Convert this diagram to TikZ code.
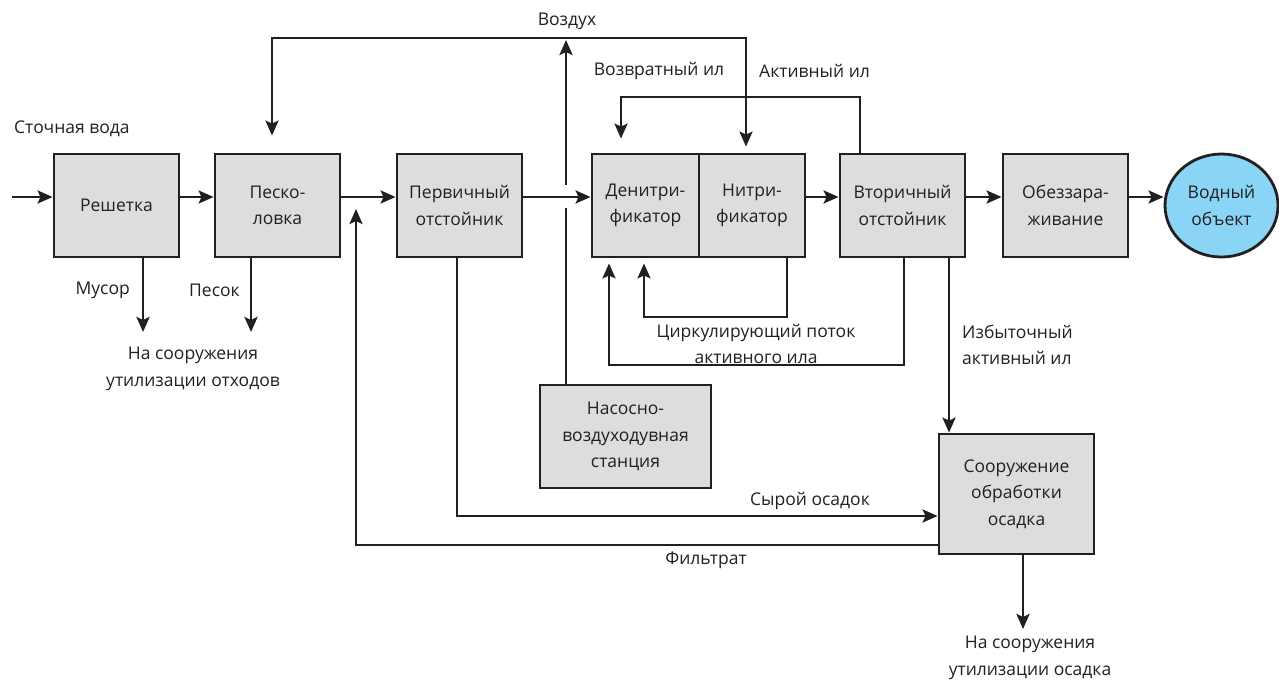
\documentclass[tikz,border=0pt]{standalone}
\usepackage{fontspec}
\setmainfont{Open Sans}
\usetikzlibrary{arrows.meta,shapes.geometric}
\definecolor{lc}{HTML}{231F20}
\definecolor{boxgray}{HTML}{DCDDDF}
\definecolor{vblue}{HTML}{8AD5F5}
\begin{document}
\begin{tikzpicture}[x=1pt,y=-1pt,
  font=\fontsize{17.5}{26.5}\selectfont,
  box/.style={draw=lc, fill=boxgray, line width=2.8pt, minimum width=125pt, minimum height=103pt, align=center, inner sep=0pt, text=lc},
  arr/.style={line width=2.8pt, draw=lc, -{Stealth[length=15pt,width=13pt,inset=3pt]}},
  dbl/.style={line width=2.8pt, draw=lc, {Stealth[length=15pt,width=13pt,inset=3pt]}-{Stealth[length=15pt,width=13pt,inset=3pt]}},
  ln/.style={line width=2.8pt, draw=lc},
  lbl/.style={align=center, inner sep=0pt, text=lc}]
\useasboundingbox (0,0) rectangle (1279,681);

% boxes
\node[box] (resh) at (116.5,205.5) {Решетка};
\node[box] (pesk) at (277.5,205.5) {Песко-\\ловка};
\node[box] (perv) at (459.5,205.5) {Первичный\\отстойник};
\node[box, minimum width=107pt] (den) at (645.5,205.5) {Денитри-\\фикатор};
\node[box, minimum width=106pt] (nitr) at (752,205.5) {Нитри-\\фикатор};
\node[box] (vtor) at (902.5,205.5) {Вторичный\\отстойник};
\node[box] (obez) at (1065.5,205.5) {Обеззара-\\живание};
\node[ellipse, draw=lc, fill=vblue, line width=2.8pt, minimum width=113pt, minimum height=103pt, align=center, inner sep=0pt, text=lc] (vod) at (1221.5,205.5) {Водный\\объект};
\node[box, minimum width=171pt] (stan) at (625.5,436.5) {Насосно-\\воздуходувная\\станция};
\node[box, minimum width=155pt, minimum height=120pt] (soor) at (1016.5,494) {Сооружение\\обработки\\осадка};

% coordinates
\coordinate (fy) at (0,197);
\coordinate (src) at (12,197);
\coordinate (ax) at (566,0);
\coordinate (gapb) at (566,208);
\coordinate (gapt) at (566,185);
\coordinate (airtip) at (566,40);
\coordinate (a1) at (272,38);
\coordinate (a2) at (746,38);
\coordinate (r1) at (860,97);
\coordinate (r2) at (621,97);
\coordinate (c1) at (904,365);
\coordinate (c2) at (609,365);
\coordinate (d1) at (787,317);
\coordinate (d2) at (644,317);
\coordinate (e1) at (949,0);
\coordinate (f1) at (457,516);
\coordinate (g1) at (356,545);
\coordinate (g2) at (356,209);
\coordinate (m1) at (143,332);
\coordinate (p1) at (251,332);
\coordinate (s1) at (1023,629);

% main flow
\draw[arr] (src) -- (resh.west |- fy);
\draw[arr] (resh.east |- fy) -- (pesk.west |- fy);
\draw[arr] (pesk.east |- fy) -- (perv.west |- fy);
\draw[arr] (perv.east |- fy) -- (den.west |- fy);
\draw[arr] (nitr.east |- fy) -- (vtor.west |- fy);
\draw[arr] (vtor.east |- fy) -- (obez.west |- fy);
\draw[arr] (obez.east |- fy) -- (vod.west |- fy);

% air
\draw[ln] (stan.north -| ax) -- (gapb);
\draw[arr] (gapt) -- (airtip);
\draw[dbl, shorten <=17pt, shorten >=6pt] (pesk.north -| a1) -- (a1) -- (a2) -- (nitr.north -| a2);

% return sludge
\draw[arr, shorten >=14pt] (vtor.north -| r1) -- (r1) -- (r2) -- (den.north -| r2);

% circulating loops
\draw[arr, shorten >=5pt] (vtor.south -| c1) -- (c1) -- (c2) -- (den.south -| c2);
\draw[arr, shorten >=5pt] (nitr.south -| d1) -- (d1) -- (d2) -- (den.south -| d2);

% excess sludge
\draw[arr] (vtor.south -| e1) -- (soor.north -| e1);

% raw sludge
\draw[arr] (perv.south -| f1) -- (f1) -- (soor.west |- f1);

% filtrate
\draw[arr] (soor.west |- g1) -- (g1) -- (g2);

% waste outputs
\draw[arr] (resh.south -| m1) -- (m1);
\draw[arr] (pesk.south -| p1) -- (p1);
\draw[arr] (soor.south -| s1) -- (s1);

% labels
\node[lbl, anchor=west] at (14,129) {Сточная вода};
\node[lbl] at (567,21) {Воздух};
\node[lbl] at (659,71) {Возвратный ил};
\node[lbl] at (814.5,71) {Активный ил};
\node[lbl, anchor=east] at (130,290) {Мусор};
\node[lbl] at (214.5,290) {Песок};
\node[lbl] at (193,369) {На сооружения\\утилизации отходов};
\node[lbl] at (756,344) {Циркулирующий поток\\активного ила};
\node[lbl, anchor=west, align=left] at (962,345) {Избыточный\\активный ил};
\node[lbl] at (810,501) {Сырой осадок};
\node[lbl] at (706,560) {Фильтрат};
\node[lbl] at (1030,658) {На сооружения\\утилизации осадка};
\end{tikzpicture}
\end{document}
